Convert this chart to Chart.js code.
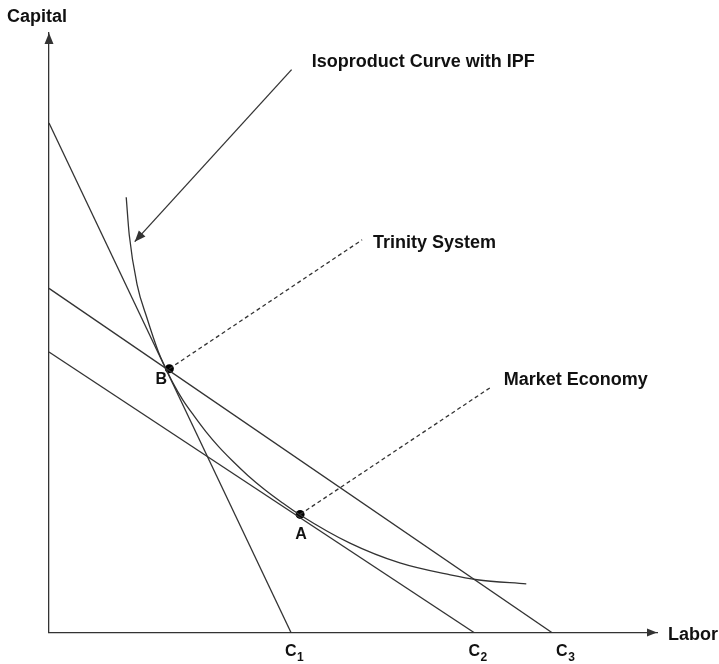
<!DOCTYPE html>
<html><head><meta charset="utf-8">
<script src="https://cdn.jsdelivr.net/npm/chart.js@4.4.0/dist/chart.umd.min.js"></script>
<style>html,body{margin:0;padding:0;background:#fff}#wrap{width:719px;height:664px;position:relative}</style>
</head><body><div id="wrap"><canvas id="c"></canvas></div>
<script>
// ---- data (chart units: Labor on x, Capital on y, both 0..10) ----
const budgetNames = ['C1', 'C2', 'C3'];
const budgetYIntercepts = [8.50, 4.68, 5.74];
const budgetXIntercepts = [3.98, 6.99, 8.27];
const budgetLabelX = [3.88, 6.90, 8.34];

const isoX = [1.27, 1.32, 1.45, 1.61, 1.80, 1.90, 2.04, 2.20, 2.38, 2.58, 2.79, 3.02, 3.27, 3.54, 3.83, 4.13, 4.95, 5.77, 6.60, 7.04, 7.85];
const isoY = [7.26, 6.63, 5.80, 5.25, 4.68, 4.45, 4.16, 3.88, 3.62, 3.35, 3.10, 2.86, 2.62, 2.39, 2.17, 1.96, 1.49, 1.16, 0.96, 0.88, 0.81];

const pointNames = ['B', 'A'];
const pointX = [1.98, 4.13];
const pointY = [4.40, 1.97];
const pointLabelX = [1.75, 4.05];
const pointLabelY = [4.15, 1.56];

const calloutNames = ['Trinity System', 'Market Economy'];
const calloutEndX = [5.15, 7.28];
const calloutEndY = [6.55, 4.10];
const calloutTextX = [5.33, 7.48];
const calloutTextY = [6.41, 4.13];
const calloutTextW = [124, 146];

const curveTitle = 'Isoproduct Curve with IPF';
const arrowFromX = 3.99, arrowFromY = 9.39, arrowToX = 1.41, arrowToY = 6.52;
const curveTitleX = 4.32, curveTitleY = 9.44;

const xAxisTitle = 'Labor';
const yAxisTitle = 'Capital';

const INK = '#333333';
const LW = 1.3;

// ---- datasets ----
const datasets = [];
budgetNames.forEach((n, i) => {
  datasets.push({
    label: n,
    data: [{x: 0, y: budgetYIntercepts[i]}, {x: budgetXIntercepts[i], y: 0}],
    showLine: true, borderColor: INK, borderWidth: LW, pointRadius: 0, fill: false
  });
});
datasets.push({
  label: 'Isoproduct',
  data: isoX.map((x, i) => ({x, y: isoY[i]})),
  showLine: true, borderColor: INK, borderWidth: LW, pointRadius: 0,
  cubicInterpolationMode: 'monotone', fill: false
});
calloutNames.forEach((n, i) => {
  datasets.push({
    label: n + ' leader',
    data: [{x: pointX[i], y: pointY[i]}, {x: calloutEndX[i], y: calloutEndY[i]}],
    showLine: true, borderColor: INK, borderWidth: LW, borderDash: [4, 3], pointRadius: 0, fill: false
  });
});
datasets.push({
  label: 'IPF arrow',
  data: [{x: arrowFromX, y: arrowFromY}, {x: arrowToX, y: arrowToY}],
  showLine: true, borderColor: INK, borderWidth: LW, pointRadius: 0, fill: false
});
datasets.push({
  label: 'Points',
  data: pointX.map((x, i) => ({x, y: pointY[i]})),
  showLine: false, pointRadius: 4.5, pointBackgroundColor: '#000', pointBorderColor: '#000', pointBorderWidth: 0
});

function arrowHead(ctx, fx, fy, tx, ty, len, half) {
  const a = Math.atan2(ty - fy, tx - fx);
  ctx.beginPath();
  ctx.moveTo(tx, ty);
  ctx.lineTo(tx - len * Math.cos(a) + half * Math.sin(a), ty - len * Math.sin(a) - half * Math.cos(a));
  ctx.lineTo(tx - len * Math.cos(a) - half * Math.sin(a), ty - len * Math.sin(a) + half * Math.cos(a));
  ctx.closePath();
  ctx.fill();
}

const annot = {
  id: 'annot',
  afterDatasetsDraw(chart) {
    const ctx = chart.ctx, xs = chart.scales.x, ys = chart.scales.y;
    const px = v => xs.getPixelForValue(v), py = v => ys.getPixelForValue(v);
    const ca = chart.chartArea;
    ctx.save();
    ctx.fillStyle = INK;
    // axis arrowheads
    arrowHead(ctx, ca.left, ca.bottom, ca.left, ca.top, 11, 4.5);
    arrowHead(ctx, ca.left, ca.bottom, ca.right, ca.bottom, 10, 4);
    // IPF arrowhead
    arrowHead(ctx, px(arrowFromX), py(arrowFromY), px(arrowToX), py(arrowToY), 11, 4.5);
    // texts
    ctx.fillStyle = '#111';
    ctx.textBaseline = 'alphabetic';
    ctx.textAlign = 'left';
    ctx.font = 'bold 18px "Liberation Sans", Arial, sans-serif';
    ctx.fillText(curveTitle, px(curveTitleX), py(curveTitleY), 226);
    calloutNames.forEach((n, i) => ctx.fillText(n, px(calloutTextX[i]), py(calloutTextY[i]), calloutTextW[i]));
    ctx.fillText(yAxisTitle, 7, 21.5, 60);
    ctx.fillText(xAxisTitle, ca.right + 11, ca.bottom + 7.5, 51);
    ctx.font = 'bold 16px "Liberation Sans", Arial, sans-serif';
    pointNames.forEach((n, i) => ctx.fillText(n, px(pointLabelX[i]), py(pointLabelY[i])));
    budgetNames.forEach((n, i) => {
      const x0 = px(budgetLabelX[i]), y0 = ca.bottom + 23.5;
      ctx.font = 'bold 16px "Liberation Sans", Arial, sans-serif';
      ctx.fillText(n.charAt(0), x0, y0);
      const w = ctx.measureText(n.charAt(0)).width;
      ctx.font = 'bold 12px "Liberation Sans", Arial, sans-serif';
      ctx.fillText(n.slice(1), x0 + w + 0.5, y0 + 5);
    });
    ctx.restore();
  }
};

new Chart(document.getElementById('c'), {
  type: 'scatter',
  data: { datasets },
  options: {
    responsive: true, maintainAspectRatio: false, animation: false,
    layout: { padding: { left: 49, right: 62, top: 33, bottom: 31.5 } },
    plugins: { legend: { display: false }, tooltip: { enabled: false } },
    events: [],
    scales: {
      x: { type: 'linear', min: 0, max: 10,
           grid: { display: false }, ticks: { display: false },
           border: { display: true, color: INK, width: LW },
           afterFit: s => { s.height = 0; } },
      y: { type: 'linear', min: 0, max: 10,
           grid: { display: false }, ticks: { display: false },
           border: { display: true, color: INK, width: LW },
           afterFit: s => { s.width = 0; } }
    }
  },
  plugins: [annot]
});
</script></body></html>
